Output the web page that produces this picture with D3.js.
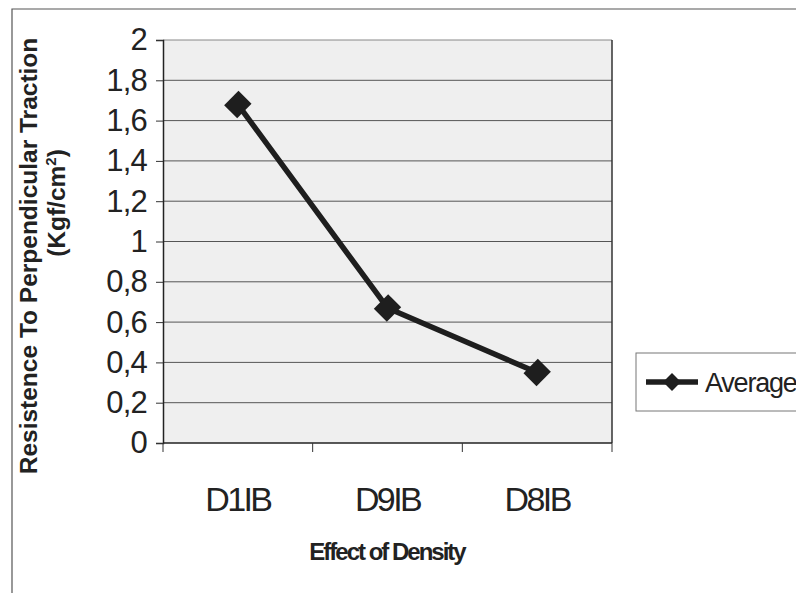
<!DOCTYPE html>
<html>
<head>
<meta charset="utf-8">
<script src="https://cdn.jsdelivr.net/npm/d3@7"></script>
<style>
  body { margin: 0; background: #fff; }
  text { font-family: "Liberation Sans", Arial, sans-serif; fill: #222; }
</style>
</head>
<body>
<div id="chart"></div>
<script>
// data
const categories = ["D1IB", "D9IB", "D8IB"];
const average = [1.68, 0.67, 0.35];
const yTicks = [0, 0.2, 0.4, 0.6, 0.8, 1, 1.2, 1.4, 1.6, 1.8, 2];
const seriesName = "Average";

var width = 796,
    height = 593;

const svg = d3.select("#chart")
  .append("svg")
    .attr("width", width)
    .attr("height", height);

// outer chart frame (only top and left visible)
svg.append("path")
  .attr("d", "M12,593V9H796")
  .attr("fill", "none")
  .attr("stroke", "#555")
  .attr("stroke-width", 1.2);

const x = d3.scaleBand().domain(categories).range([163, 612]).padding(0);
const y = d3.scaleLinear().domain([0, 2]).range([443, 40]);

const loc = d3.formatLocale({ decimal: ",", thousands: ".", grouping: [3], currency: ["", ""] });
const fmt = loc.format(".1~f");

// plot area
svg.append("rect")
  .attr("x", x.range()[0])
  .attr("y", y(2))
  .attr("width", x.range()[1] - x.range()[0])
  .attr("height", y(0) - y(2))
  .attr("fill", "#efefef");

// gridlines
svg.append("g")
  .selectAll("line")
  .data(yTicks.filter(d => d > 0))
  .join("line")
    .attr("x1", x.range()[0])
    .attr("x2", x.range()[1])
    .attr("y1", d => y(d))
    .attr("y2", d => y(d))
    .attr("stroke", d => d === 2 ? "#888" : "#555")
    .attr("stroke-width", 1);

// right border
svg.append("line")
  .attr("x1", x.range()[1]).attr("x2", x.range()[1])
  .attr("y1", y(2)).attr("y2", y(0))
  .attr("stroke", "#333").attr("stroke-width", 1.5);

// y axis
const yAxis = svg.append("g")
  .attr("transform", `translate(${x.range()[0]},0)`)
  .call(d3.axisLeft(y).tickValues(yTicks).tickFormat(fmt).tickSize(7).tickPadding(9));
yAxis.select(".domain").attr("stroke", "#222").attr("stroke-width", 1.5);
yAxis.selectAll(".tick line").attr("stroke", "#333");
yAxis.selectAll(".tick text")
  .attr("font-size", 31)
  .attr("letter-spacing", "-0.8px")
  .attr("font-family", "'Liberation Sans', Arial, sans-serif")
  .attr("fill", "#222");

// x axis with ticks between categories
const xb = [...categories.map(c => x(c)), x(categories[categories.length - 1]) + x.bandwidth()];
svg.append("line")
  .attr("x1", x.range()[0]).attr("x2", x.range()[1])
  .attr("y1", y(0)).attr("y2", y(0))
  .attr("stroke", "#222").attr("stroke-width", 1.5);
svg.append("g")
  .selectAll("line")
  .data(xb)
  .join("line")
    .attr("x1", d => d).attr("x2", d => d)
    .attr("y1", y(0)).attr("y2", y(0) + 9)
    .attr("stroke", "#333");
svg.append("g")
  .selectAll("text")
  .data(categories)
  .join("text")
    .attr("x", d => x(d) + x.bandwidth() / 2)
    .attr("y", 511)
    .attr("text-anchor", "middle")
    .attr("font-size", 34)
    .attr("letter-spacing", "-2.6px")
    .text(d => d);

// axis titles
svg.append("text")
  .attr("x", 387).attr("y", 560)
  .attr("text-anchor", "middle")
  .attr("font-size", 24)
  .attr("font-weight", "bold")
  .attr("letter-spacing", "-2px")
  .text("Effect of Density");

svg.append("text")
  .attr("transform", "translate(37,256) rotate(-90)")
  .attr("text-anchor", "middle")
  .attr("font-size", 24.5)
  .attr("font-weight", "bold")
  .text("Resistence To Perpendicular Traction");

const unit = svg.append("text")
  .attr("transform", "translate(65,203) rotate(-90)")
  .attr("text-anchor", "middle")
  .attr("font-size", 24.5)
  .attr("font-weight", "bold");
unit.append("tspan").text("(Kgf/cm");
unit.append("tspan").attr("font-size", 15).attr("dy", -9).text("2");
unit.append("tspan").attr("dy", 9).text(")");

// series line + markers
const pts = categories.map((c, i) => ({ c, v: average[i] }));
const line = d3.line().x(d => x(d.c) + x.bandwidth() / 2).y(d => y(d.v));
svg.append("path")
  .datum(pts)
  .attr("d", line)
  .attr("fill", "none")
  .attr("stroke", "#1e1e1e")
  .attr("stroke-width", 5.5)
  .attr("stroke-linejoin", "round");

const diamond = d3.symbol(d3.symbolSquare, 340);
svg.append("g")
  .selectAll("path")
  .data(pts)
  .join("path")
    .attr("d", diamond)
    .attr("transform", d => `translate(${x(d.c) + x.bandwidth() / 2},${y(d.v)}) rotate(45) scale(1,1.1)`)
    .attr("fill", "#1e1e1e");

// legend
const lg = svg.append("g");
lg.append("rect")
  .attr("x", 636).attr("y", 353)
  .attr("width", 200).attr("height", 58)
  .attr("fill", "#fff")
  .attr("stroke", "#777");
lg.append("line")
  .attr("x1", 646).attr("x2", 698)
  .attr("y1", 382).attr("y2", 382)
  .attr("stroke", "#1e1e1e").attr("stroke-width", 5.5);
lg.append("path")
  .attr("d", d3.symbol(d3.symbolSquare, 160))
  .attr("transform", "translate(672,382) rotate(45)")
  .attr("fill", "#1e1e1e");
lg.append("text")
  .attr("x", 705).attr("y", 392)
  .attr("font-size", 27)
  .attr("letter-spacing", "-1.2px")
  .text(seriesName);
</script>
</body>
</html>
